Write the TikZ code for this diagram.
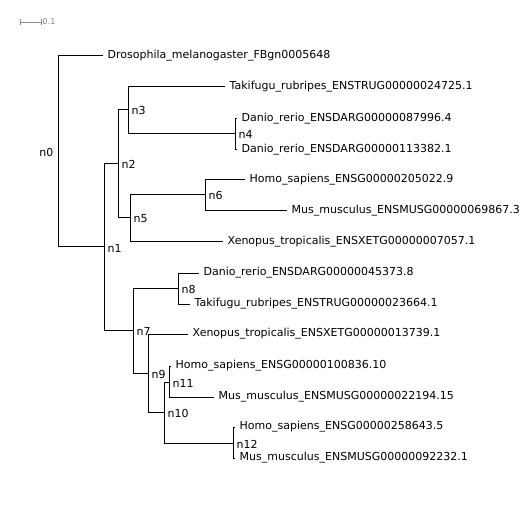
\documentclass[tikz,border=0pt]{standalone}
\usepackage{fontspec}
\setmainfont{DejaVu Sans}
\usepackage{xcolor}

\begin{document}
\begin{tikzpicture}[x=1pt,y=-1pt,font=\fontsize{11}{13}\selectfont,
  br/.style={draw,line width=1pt},
  leaf/.style={anchor=mid west,inner sep=0pt,xshift=4.5pt},
  inl/.style={anchor=base west,inner sep=0pt,xshift=3.5pt,yshift=-5pt},
  sbar/.style={draw=black!45,line width=0.8pt},
  sblbl/.style={anchor=mid west,inner sep=0pt,xshift=1.5pt,text=black!50,font=\fontsize{8}{9}\selectfont}]
  \useasboundingbox (0,0) rectangle (529,518);

  % scale bar (0.1 substitutions per site)
  \coordinate (sb0) at (20,22);
  \coordinate (sb1) at (41,22);
  \draw[sbar] (sb0) -- (sb1);
  \draw[sbar] ([yshift=3pt]sb0) -- ([yshift=-3pt]sb0);
  \draw[sbar] ([yshift=3pt]sb1) -- ([yshift=-3pt]sb1);
  \node[sblbl] (sblab) at (sb1) {0.1};

  % internal nodes: x = position of the vertical bar, y = junction
  \foreach \id/\x/\y in {n0/58/152, n1/104/247, n2/118/164, n3/128/110, n4/235/134,
      n5/130/218, n6/205/195, n7/133/330, n8/178/288, n9/148/373, n10/164/412,
      n11/169/382, n12/233/443}{
    \coordinate (\id) at (\x,\y);
  }
  \foreach \id in {n1,n2,n3,n4,n5,n6,n7,n8,n9,n10,n11,n12}{
    \node[inl] (\id-lab) at (\id) {\id};
  }
  \node[anchor=base east,inner sep=0pt,xshift=-4.5pt,yshift=-5pt] (n0-lab) at (n0) {n0};

  % leaves: end of branch, then the sequence name
  \foreach \id/\x/\y/\name in {
      dro/103/56/{Drosophila\_melanogaster\_FBgn0005648},
      tak1/225/87/{Takifugu\_rubripes\_ENSTRUG00000024725.1},
      dan1/237/119/{Danio\_rerio\_ENSDARG00000087996.4},
      dan2/237/150/{Danio\_rerio\_ENSDARG00000113382.1},
      hom1/245/180/{Homo\_sapiens\_ENSG00000205022.9},
      mus1/287/211/{Mus\_musculus\_ENSMUSG00000069867.3},
      xen1/223/242/{Xenopus\_tropicalis\_ENSXETG00000007057.1},
      dan3/199/273/{Danio\_rerio\_ENSDARG00000045373.8},
      tak2/190/304/{Takifugu\_rubripes\_ENSTRUG00000023664.1},
      xen2/188/334/{Xenopus\_tropicalis\_ENSXETG00000013739.1},
      hom2/171/366/{Homo\_sapiens\_ENSG00000100836.10},
      mus2/214/397/{Mus\_musculus\_ENSMUSG00000022194.15},
      hom3/235/427/{Homo\_sapiens\_ENSG00000258643.5},
      mus3/235/458/{Mus\_musculus\_ENSMUSG00000092232.1}}{
    \coordinate (\id) at (\x,\y);
    \node[leaf] (\id-lab) at (\id) {\name};
  }

  % branches
  \foreach \p/\c in {n0/dro, n0/n1, n1/n2, n1/n7, n2/n3, n2/n5, n3/tak1, n3/n4,
      n4/dan1, n4/dan2, n5/n6, n5/xen1, n6/hom1, n6/mus1, n7/n8, n7/n9,
      n8/dan3, n8/tak2, n9/xen2, n9/n10, n10/n11, n10/n12, n11/hom2, n11/mus2,
      n12/hom3, n12/mus3}{
    \draw[br] (\p) |- (\c);
  }
\end{tikzpicture}
\end{document}
